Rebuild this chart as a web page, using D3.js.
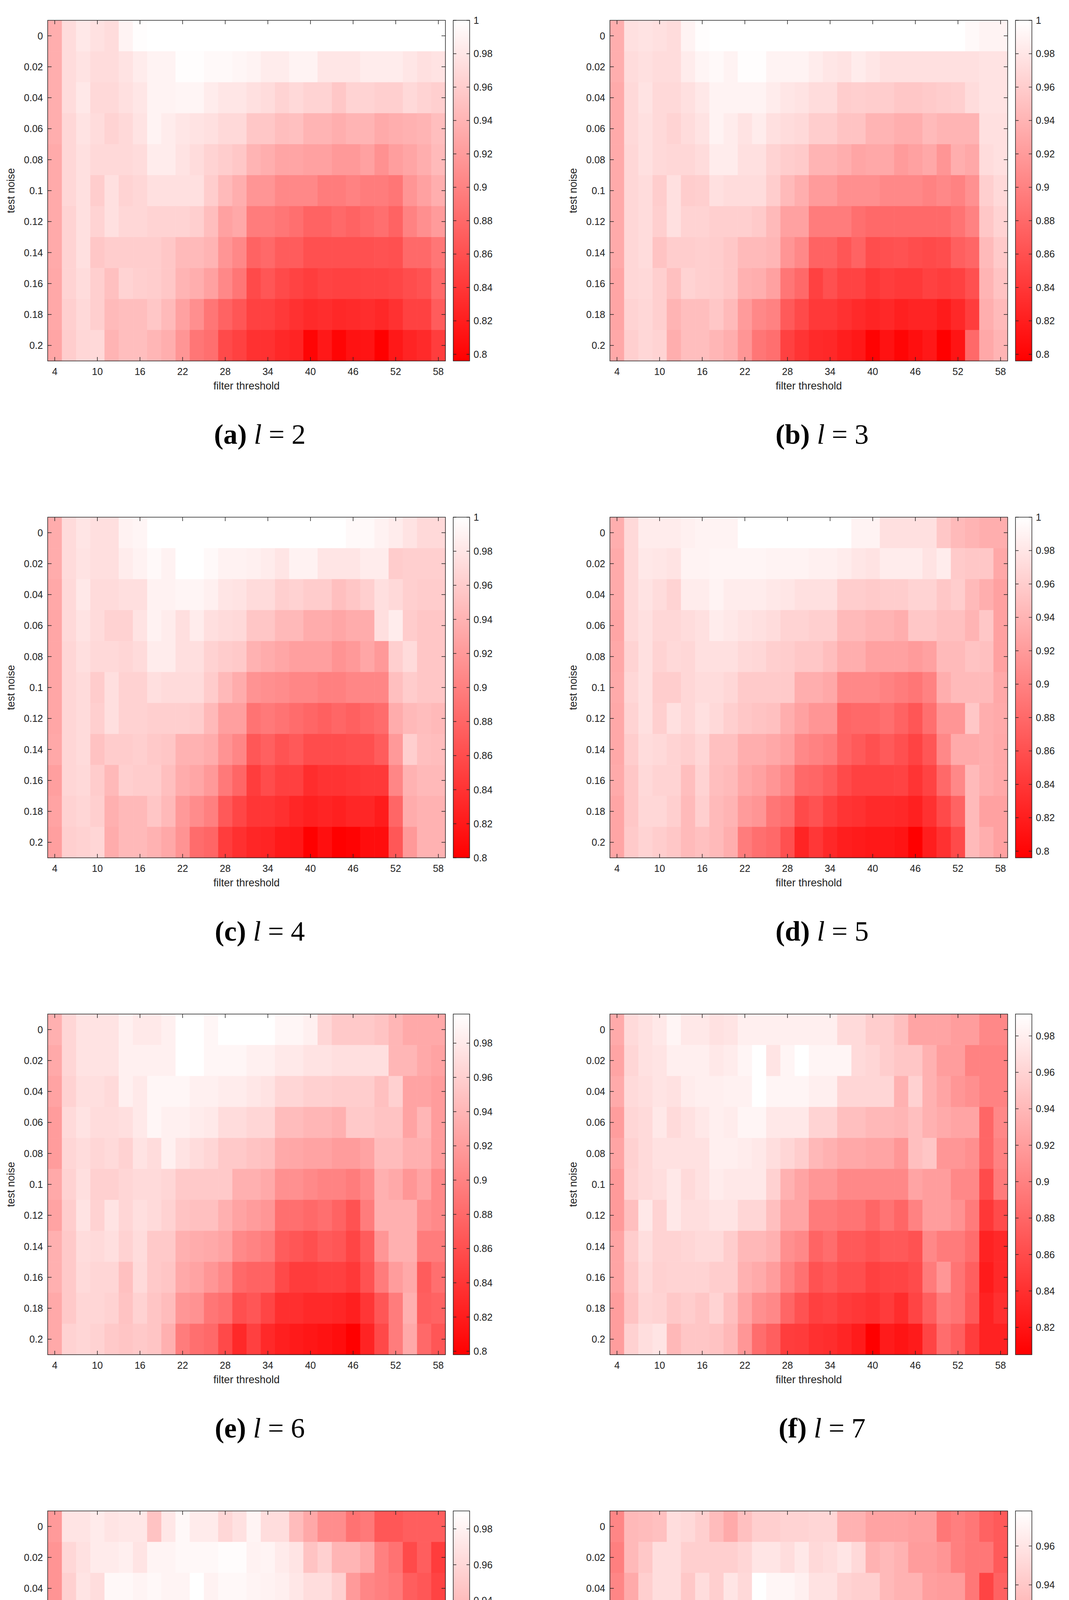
<!DOCTYPE html>
<html><head><meta charset="utf-8">
<script src="https://cdn.jsdelivr.net/npm/d3@7"></script>
<style>body{margin:0;background:#fff}svg{display:block}</style>
</head><body>
<script>
const thresholds = d3.range(4, 60, 2);
const noise = [0,0.02,0.04,0.06,0.08,0.1,0.12,0.14,0.16,0.18,0.2];
const xTicks = [4,10,16,22,28,34,40,46,52,58];
const panelLetters = ["a","b","c","d","e","f","g","h"];
const panelL = [2,3,4,5,6,7,8,9];

// accuracy values (x1000), rows = test noise, cols = filter threshold
const l2 = [
[935,972,982,976,972,990,998,1000,1000,1000,1000,1000,1000,1000,1000,1000,1000,1000,1000,1000,1000,1000,1000,1000,1000,1000,1000,1000],
[935,972,978,972,972,978,985,990,990,998,998,995,995,993,990,985,985,990,990,980,980,980,985,985,985,980,975,978],
[935,972,982,970,970,975,980,990,990,992,992,985,980,980,975,972,965,970,965,965,955,965,965,962,962,970,965,962],
[935,968,978,972,965,970,978,990,985,980,978,975,970,970,955,955,948,950,940,940,935,940,940,932,935,938,940,948],
[932,968,975,970,970,970,972,985,985,978,972,965,960,955,940,935,928,928,925,925,918,918,925,912,922,928,935,945],
[932,968,975,960,975,965,968,975,975,975,975,960,945,935,915,915,905,905,905,895,895,900,895,895,890,915,925,935],
[932,965,975,965,975,968,968,965,965,965,962,948,925,930,895,895,890,885,875,875,880,875,880,885,875,900,910,920],
[932,965,975,955,960,960,960,960,955,945,945,940,915,905,875,880,870,870,860,860,860,860,860,862,860,880,880,890],
[930,965,972,962,950,965,962,960,955,940,935,925,905,890,855,865,855,850,845,850,848,848,850,850,852,858,862,880],
[930,962,970,962,945,948,948,955,945,925,910,890,875,865,848,848,842,835,830,832,828,830,832,828,835,848,848,870],
[928,960,968,970,940,948,948,942,935,915,890,885,855,848,835,835,828,825,800,815,800,810,812,796,815,825,830,845]];
const l3 = [
[935,975,978,975,972,990,998,1000,1000,1000,1000,1000,1000,1000,1000,1000,1000,1000,1000,1000,1000,1000,1000,1000,1000,995,990,990],
[935,972,975,972,972,985,992,995,990,998,998,990,990,990,985,980,978,985,980,975,975,975,975,975,975,975,978,978],
[932,970,978,970,970,975,982,990,990,990,990,985,980,978,972,972,960,962,960,960,955,955,958,960,962,972,978,978],
[932,970,975,970,965,972,978,990,985,978,985,975,972,970,960,960,952,952,940,940,935,935,945,940,940,940,975,975],
[932,968,975,970,968,968,972,985,985,975,975,965,960,958,940,940,935,928,930,930,920,925,930,915,935,930,972,975],
[932,968,972,960,975,960,962,975,972,972,972,960,945,935,920,920,910,910,910,905,905,905,900,905,900,912,962,970],
[932,968,972,962,975,965,965,962,962,962,958,945,925,925,895,895,895,885,880,880,880,880,880,880,888,900,955,965],
[932,968,972,952,960,960,962,960,955,945,945,942,915,905,875,875,865,875,858,860,862,858,855,858,872,878,945,958],
[928,968,970,962,950,965,962,960,955,938,935,925,890,880,848,860,850,850,840,845,842,842,848,845,848,860,940,952],
[928,965,968,962,940,948,948,955,945,920,905,900,868,855,842,842,835,830,825,828,822,825,825,818,828,845,935,945],
[930,962,968,965,935,948,948,942,935,915,890,885,848,838,830,828,820,815,798,810,800,808,815,796,812,880,930,940]];
const l4 = [
[935,972,980,975,975,990,992,1000,1000,1000,1000,1000,1000,1000,1000,1000,1000,1000,1000,1000,1000,995,995,990,985,978,970,970],
[935,972,978,975,975,985,990,995,990,1000,1000,995,990,990,988,985,980,990,990,980,980,980,985,985,960,962,962,962],
[932,970,982,972,972,975,975,990,990,992,992,988,980,978,972,972,962,965,960,960,950,955,962,975,970,962,960,960],
[930,970,978,972,965,965,978,990,985,975,985,975,972,970,955,955,945,945,935,935,930,935,935,975,985,960,955,955],
[930,968,975,970,970,968,972,985,985,975,975,965,960,958,940,935,930,925,925,925,915,920,930,920,962,972,955,955],
[930,968,972,960,975,965,965,975,972,972,972,960,945,935,915,912,910,905,905,900,900,905,905,905,950,960,955,955],
[930,968,972,962,975,965,965,962,962,962,960,945,925,925,890,895,890,885,880,875,880,875,880,885,935,945,948,945],
[932,968,972,952,960,960,962,958,955,940,940,935,915,905,868,875,865,870,860,860,860,862,862,872,920,962,950,948],
[925,968,970,960,945,962,960,960,950,935,930,920,895,880,848,860,850,850,835,840,840,842,845,845,905,940,945,945],
[928,965,968,962,938,945,945,955,945,920,910,900,870,855,842,842,838,830,825,828,825,830,830,822,880,935,940,940],
[925,962,965,968,935,945,945,940,932,915,885,880,848,838,830,828,820,818,800,812,800,802,810,810,868,920,940,940]];
const l5 = [
[935,970,985,985,985,988,990,990,990,1000,1000,1000,1000,1000,1000,1000,1000,990,990,975,975,975,975,955,945,940,935,935],
[932,970,982,980,978,990,990,992,992,992,992,990,990,990,988,988,985,980,978,985,985,985,978,985,958,955,955,930],
[932,970,978,972,965,985,985,990,985,985,985,982,980,975,975,975,960,960,958,960,960,965,965,955,960,945,935,925],
[928,970,975,968,968,972,975,985,982,978,975,972,965,965,962,962,945,945,940,940,935,955,955,950,950,940,955,925],
[930,965,975,965,970,968,975,975,975,970,968,962,960,955,955,948,935,935,925,925,925,920,925,945,945,952,950,925],
[932,968,975,960,960,968,972,972,968,958,958,958,958,935,935,930,905,905,905,900,895,890,900,935,945,945,945,930],
[930,965,975,962,975,968,975,970,962,955,952,950,935,925,915,915,878,880,880,885,875,865,885,915,915,955,935,932],
[930,960,972,970,965,962,968,950,950,935,935,930,925,905,900,895,875,868,860,868,860,850,865,905,932,932,935,930],
[932,955,970,965,965,948,965,948,945,930,925,915,905,880,878,870,855,848,848,848,850,838,850,880,905,945,935,930],
[928,955,968,968,962,945,962,945,940,920,915,890,885,855,862,848,838,835,830,830,828,822,835,855,875,945,925,925],
[928,958,965,960,955,945,950,945,935,895,885,880,860,825,840,828,820,818,815,815,812,796,820,835,855,945,935,925]];
const l6 = [
[935,965,975,975,975,985,980,980,985,997,997,990,997,997,997,997,990,990,985,965,955,955,955,950,940,930,930,930],
[930,965,975,975,975,985,985,985,985,997,997,990,990,990,985,985,980,980,975,975,972,972,972,972,940,940,930,925],
[925,962,972,972,968,985,980,990,990,990,985,985,982,982,978,975,965,965,960,960,958,958,958,948,960,925,925,920],
[920,968,975,970,970,972,980,990,985,985,982,980,970,970,965,965,945,945,940,940,935,955,955,950,950,925,940,920],
[920,965,970,965,968,962,975,970,985,975,970,965,955,955,950,948,930,928,925,925,920,920,925,945,945,935,935,920],
[930,962,972,960,960,965,968,968,965,955,955,955,955,935,935,930,910,910,905,900,900,895,905,935,930,915,925,905],
[925,958,975,962,975,965,972,968,962,950,948,948,935,925,920,915,885,885,880,885,875,862,895,935,935,935,910,905],
[935,955,970,968,972,962,970,955,955,935,932,930,925,905,900,895,870,865,860,868,865,852,870,915,935,935,895,895],
[935,955,968,965,965,948,968,955,952,930,925,915,905,880,875,875,855,845,845,848,848,842,862,895,920,930,870,885],
[930,955,965,965,962,950,962,952,945,915,912,890,885,860,865,852,835,835,830,830,828,822,840,865,895,935,872,875],
[930,962,965,962,955,952,955,952,935,895,885,880,855,830,848,830,822,818,815,812,808,798,825,855,895,930,880,865]];
const l7 = [
[930,965,970,975,985,975,975,970,972,980,980,980,980,980,980,980,965,965,955,955,945,925,925,925,920,920,905,905],
[925,962,970,972,980,980,980,975,978,985,992,972,985,992,985,985,985,965,962,955,950,950,935,920,920,900,900,900],
[930,965,968,972,970,978,980,980,982,982,992,985,985,985,980,980,962,962,962,962,935,958,935,925,915,910,900,900],
[920,962,965,975,965,970,975,980,978,985,985,975,975,975,960,960,945,945,940,940,938,945,935,930,925,925,880,905],
[925,958,965,970,970,970,970,980,980,978,975,968,962,955,940,935,928,928,925,925,915,945,950,915,915,910,880,900],
[918,960,965,968,975,965,970,978,975,975,975,958,935,925,915,915,905,905,905,905,905,925,920,920,905,905,860,895],
[918,945,975,960,975,968,968,972,972,962,962,945,925,925,895,895,890,890,880,890,880,900,920,920,912,895,845,860],
[925,955,968,960,960,962,965,965,955,940,940,935,910,905,878,885,870,870,865,870,870,865,905,895,895,885,830,835],
[925,952,965,958,960,960,960,955,955,935,930,920,900,888,865,870,862,862,852,855,855,860,895,915,890,875,825,835],
[920,948,962,960,952,955,950,960,945,925,910,905,880,865,852,855,848,845,842,848,838,855,875,895,890,870,830,840],
[920,958,968,972,940,950,950,948,940,915,885,875,850,848,840,838,832,825,805,825,820,825,855,885,875,850,830,830]];
const l8 = [
[915,970,970,975,970,972,972,945,972,985,975,975,960,968,982,965,965,940,925,905,905,885,890,865,865,870,870,870],
[910,960,968,975,975,978,970,982,982,985,985,985,988,988,980,982,975,970,945,955,935,935,925,895,885,855,870,845],
[910,955,970,965,985,985,982,985,982,982,990,980,985,985,982,980,978,972,965,965,955,915,900,895,890,870,865,850],
[910,965,965,965,985,982,990,982,985,982,980,982,982,980,962,955,955,948,945,945,955,925,925,895,875,845,835,845],
[905,960,968,962,970,968,982,968,980,975,972,978,968,965,945,940,940,930,945,935,935,935,935,880,880,835,835,845],
[895,955,965,962,972,972,978,975,985,962,965,960,960,960,940,920,925,910,920,915,930,915,930,905,870,855,830,830],
[910,965,962,975,972,972,975,960,978,965,950,950,940,945,900,900,905,880,890,890,905,915,915,900,875,840,825,835],
[895,945,955,970,975,965,968,968,978,955,945,940,920,925,885,885,870,870,865,875,910,895,900,900,850,825,825,825],
[890,965,955,970,970,960,962,965,965,925,915,910,905,900,875,865,858,852,848,855,855,855,900,890,855,835,825,825],
[895,952,958,965,968,955,955,952,945,915,910,885,875,875,830,830,830,840,835,830,865,870,915,905,855,825,825,825],
[905,955,962,965,965,952,952,948,940,905,905,870,830,860,825,825,822,835,800,830,842,855,865,895,845,825,825,825]];
const l9 = [
[895,930,932,935,955,952,945,932,920,935,945,945,948,948,950,950,925,925,915,915,915,912,912,885,890,885,870,865],
[890,930,940,955,955,945,945,945,945,950,960,960,955,962,952,955,960,952,925,930,925,910,910,905,890,885,885,865],
[895,920,945,955,955,940,955,945,960,952,978,972,972,968,958,958,948,945,945,930,925,925,912,910,910,885,850,870],
[860,935,950,965,962,960,970,945,955,962,978,968,965,965,955,962,935,935,930,930,930,925,915,905,880,860,865,855],
[895,925,948,958,950,970,965,972,958,962,968,960,968,958,945,945,935,935,925,925,925,915,910,890,885,855,850,840],
[890,915,948,965,955,955,960,945,972,972,970,960,955,950,948,935,910,912,920,912,900,915,910,895,875,845,840,840],
[880,930,970,965,962,965,960,958,972,955,955,950,948,930,925,925,895,905,895,905,890,890,910,900,875,850,830,840],
[875,915,955,965,972,965,958,968,970,948,940,935,935,915,910,905,890,878,878,882,882,865,910,895,880,840,835,835],
[895,920,948,965,965,952,965,960,962,945,925,920,910,890,895,880,875,870,862,862,868,860,885,900,855,840,835,830],
[860,915,965,965,958,955,955,955,945,920,915,905,895,860,878,870,845,840,845,840,850,875,885,885,855,840,835,835],
[880,935,948,958,958,952,952,935,935,900,900,890,875,842,858,840,845,820,825,820,820,820,890,890,860,835,830,803]];
const panels = [l2,l3,l4,l5,l6,l7,l8,l9];

const W = 2736, H = 5005;
const svg = d3.select("body").append("svg").attr("width", W).attr("height", H)
  .style("font-family", "'Liberation Sans', Arial, sans-serif");
const defs = svg.append("defs");
const pw = 1018, ph = 872;

panels.forEach((raw, pi) => {
  const col = pi % 2, row = Math.floor(pi / 2);
  const ox = col === 0 ? 122 : 1561;
  const oy = 52 + row * 1272;
  const data = [];
  raw.forEach((r, ri) => r.forEach((v, ci) => data.push({x: thresholds[ci], y: noise[ri], v: v / 1000})));
  const ext = d3.extent(data, d => d.v);
  const color = d3.scaleLinear().domain(ext).range(["#ff0000", "#ffffff"]).interpolate(d3.interpolateRgb);
  const x = d3.scaleBand().domain(thresholds).range([0, pw]);
  const y = d3.scaleBand().domain(noise).range([0, ph]);
  const g = svg.append("g").attr("transform", `translate(${ox},${oy})`);
  g.selectAll("rect.c").data(data).join("rect").attr("class", "c")
    .attr("x", d => x(d.x)).attr("y", d => y(d.y))
    .attr("width", x.bandwidth() + 0.6).attr("height", y.bandwidth() + 0.6)
    .attr("fill", d => color(d.v));
  const xp = d3.scalePoint().domain(thresholds).range([x.bandwidth()/2, pw - x.bandwidth()/2]);
  const yp = d3.scalePoint().domain(noise).range([y.bandwidth()/2, ph - y.bandwidth()/2]);
  const tl = 10;
  const ax = g.append("g").attr("stroke", "#222").attr("stroke-width", 1.5);
  xTicks.forEach(t => {
    ax.append("line").attr("x1", xp(t)).attr("x2", xp(t)).attr("y1", ph).attr("y2", ph - tl);
    ax.append("line").attr("x1", xp(t)).attr("x2", xp(t)).attr("y1", 0).attr("y2", tl);
  });
  noise.forEach(t => {
    ax.append("line").attr("x1", 0).attr("x2", tl).attr("y1", yp(t)).attr("y2", yp(t));
    ax.append("line").attr("x1", pw).attr("x2", pw - tl).attr("y1", yp(t)).attr("y2", yp(t));
  });
  g.append("rect").attr("width", pw).attr("height", ph).attr("fill", "none").attr("stroke", "#222").attr("stroke-width", 1.5);
  g.selectAll("text.xt").data(xTicks).join("text").attr("class", "xt")
    .attr("x", d => xp(d)).attr("y", ph + 36).attr("text-anchor", "middle")
    .attr("font-size", 25).attr("fill", "#222").text(d => d);
  g.selectAll("text.yt").data(noise).join("text").attr("class", "yt")
    .attr("x", -12).attr("y", d => yp(d) + 9).attr("text-anchor", "end")
    .attr("font-size", 25).attr("fill", "#222").text(d => String(d));
  g.append("text").attr("x", pw / 2).attr("y", ph + 73).attr("text-anchor", "middle")
    .attr("font-size", 27).attr("fill", "#222").text("filter threshold");
  g.append("text").attr("transform", `translate(-85,${ph/2}) rotate(-90)`).attr("text-anchor", "middle")
    .attr("font-size", 27).attr("fill", "#222").text("test noise");

  // colorbar
  const gid = "grad" + pi;
  const grad = defs.append("linearGradient").attr("id", gid).attr("x1", 0).attr("y1", 1).attr("x2", 0).attr("y2", 0);
  grad.append("stop").attr("offset", "0%").attr("stop-color", color(ext[0]));
  grad.append("stop").attr("offset", "100%").attr("stop-color", color(ext[1]));
  const cb = g.append("g").attr("transform", `translate(${pw + 20},0)`);
  const cw = 42;
  cb.append("rect").attr("width", cw).attr("height", ph).attr("fill", `url(#${gid})`).attr("stroke", "#222").attr("stroke-width", 1.5);
  const cy = d3.scaleLinear().domain(ext).range([ph, 0]);
  const cticks = d3.range(Math.ceil(ext[0] * 50 - 1e-6), Math.floor(ext[1] * 50 + 1e-6) + 1).map(k => k / 50);
  cticks.forEach(t => {
    cb.append("line").attr("x1", cw).attr("x2", cw - 8).attr("y1", cy(t)).attr("y2", cy(t)).attr("stroke", "#222").attr("stroke-width", 1.5);
    cb.append("line").attr("x1", 0).attr("x2", 8).attr("y1", cy(t)).attr("y2", cy(t)).attr("stroke", "#222").attr("stroke-width", 1.5);
    cb.append("text").attr("x", cw + 10).attr("y", cy(t) + 9).attr("font-size", 25).attr("fill", "#222")
      .text(String(+t.toFixed(2)));
  });

  // caption
  const cap = svg.append("text").attr("x", (col === 0 ? 665 : 2104)).attr("y", oy + 1084)
    .attr("text-anchor", "middle").attr("font-size", 72).attr("font-family", "'Liberation Serif','DejaVu Serif',serif");
  cap.append("tspan").attr("font-weight", "bold").text(`(${panelLetters[pi]})`);
  cap.append("tspan").attr("font-style", "italic").text(" l");
  cap.append("tspan").text(` = ${panelL[pi]}`);
});
</script>
</body></html>
